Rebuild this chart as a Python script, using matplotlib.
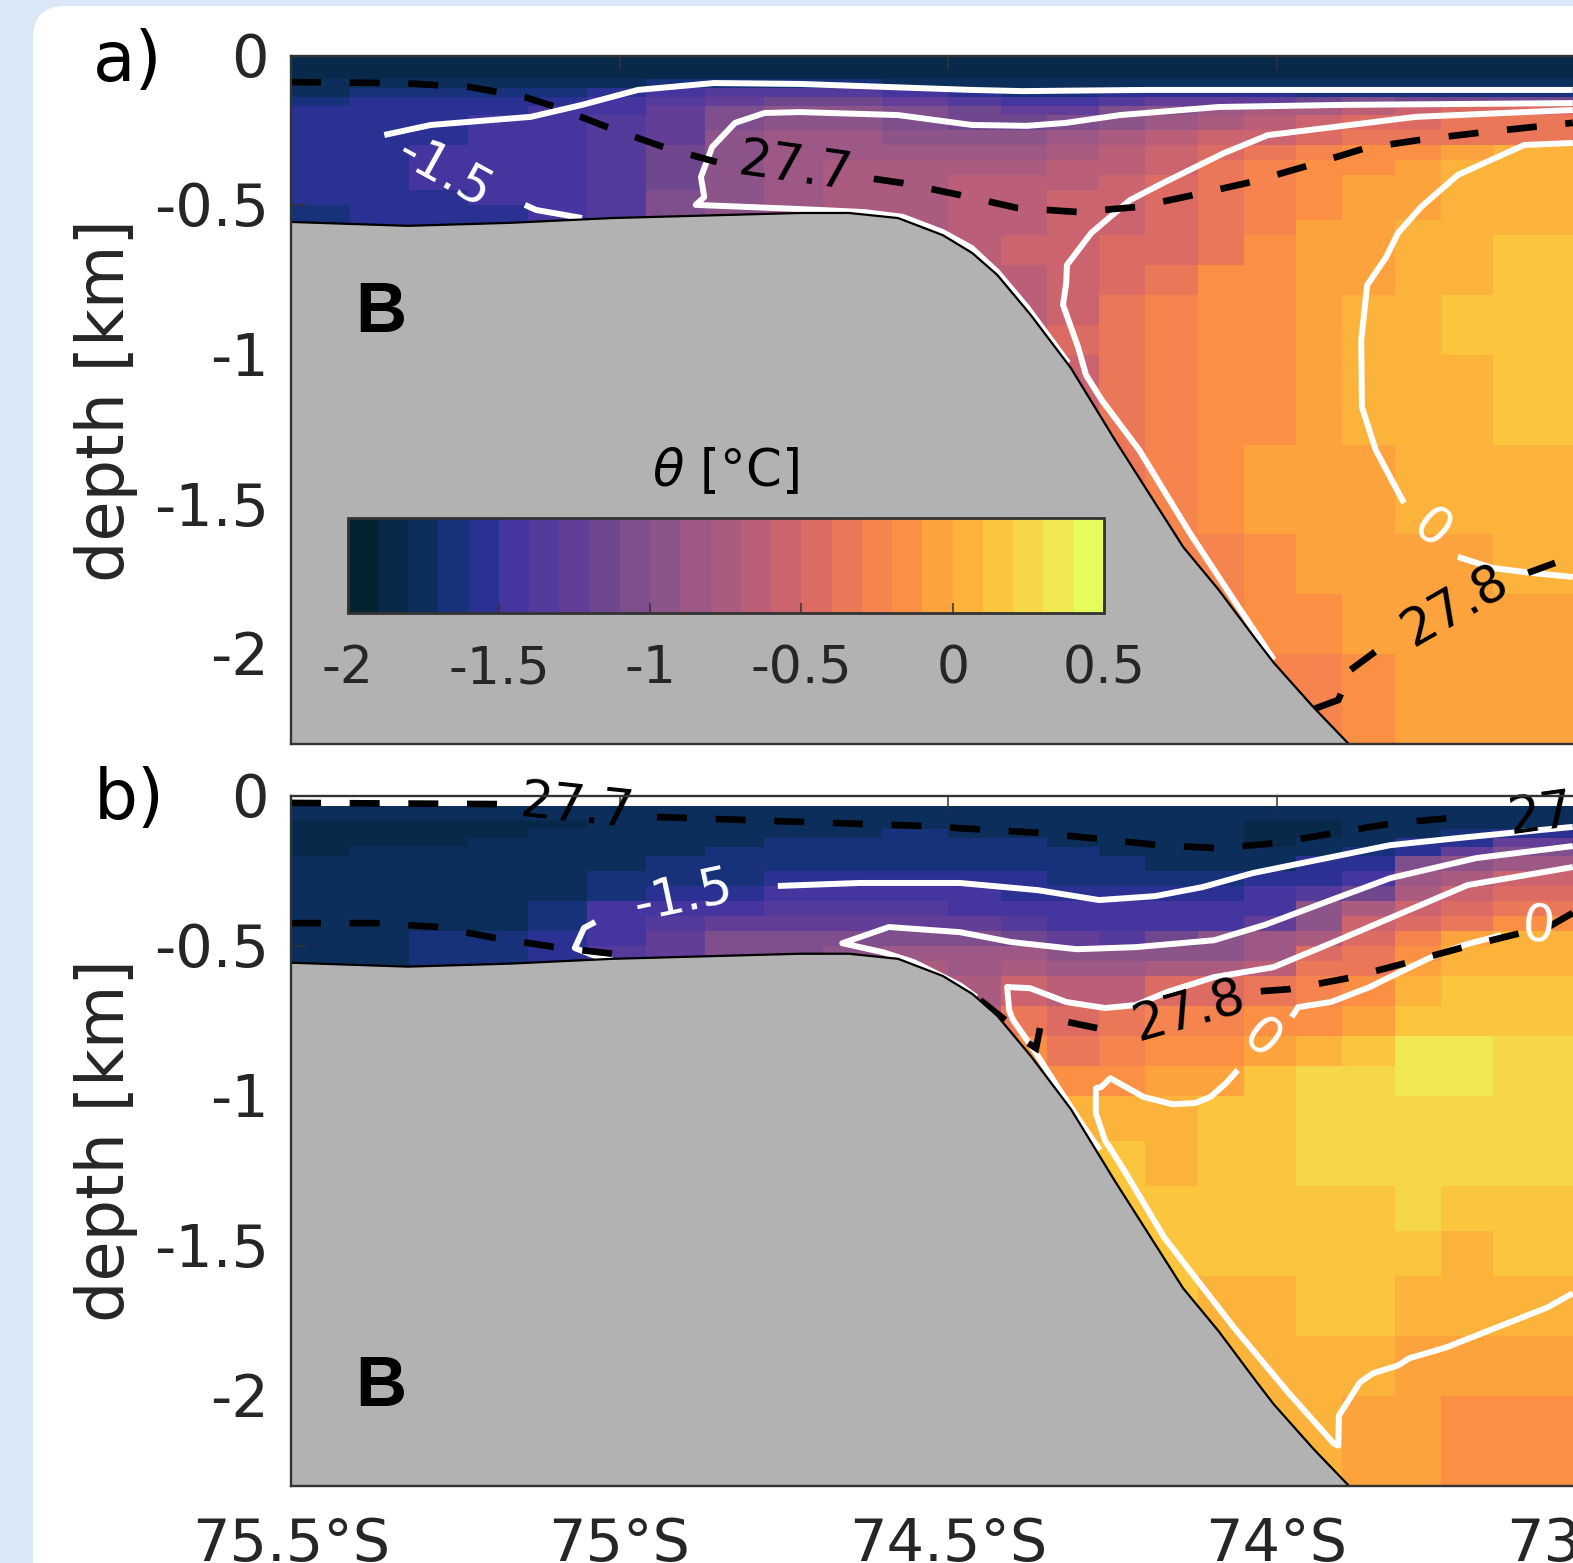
import numpy as np
import matplotlib
matplotlib.use("Agg")
import matplotlib.pyplot as plt
from matplotlib.colors import ListedColormap, BoundaryNorm
from matplotlib.patches import FancyBboxPatch
from matplotlib.transforms import IdentityTransform, ScaledTranslation

n = np.nan
W, H = 1573, 1563

# colour steps, one per 0.1 degC from -2 to 0.5
cbar_colors = ['#04222f', '#08294a', '#0c2e5b', '#17317a', '#2a3192', '#44359f', '#543a9b', '#623e98',
               '#6f478f', '#7e4e8d', '#8c5488', '#9d5885', '#ab5a80', '#bb5f79', '#cc6470', '#db6b63',
               '#ea7858', '#f5844f', '#fb8f43', '#fca33d', '#fcb33b', '#fbc53e', '#f6d749', '#efe851', '#e6fb5c']
cbar_levels = [-2.0, -1.9, -1.8, -1.7, -1.6, -1.5, -1.4, -1.3, -1.2, -1.1, -1.0, -0.9, -0.8, -0.7, -0.6,
               -0.5, -0.4, -0.3, -0.2, -0.1, 0.0, 0.1, 0.2, 0.3, 0.4, 0.5]
cbar_ticks = [-2, -1.5, -1, -0.5, 0, 0.5]
cbar_ticklabels = ['-2', '-1.5', '-1', '-0.5', '0', '0.5']

lat_edges = [75.5, 75.41, 75.32, 75.23, 75.14, 75.05, 74.96, 74.87, 74.78, 74.69, 74.6, 74.5, 74.42, 74.35,
             74.27, 74.2, 74.12, 74.05, 73.97, 73.9, 73.82, 73.75, 73.67, 73.549]
depth_edges = [0, .035, .08, .11, .14, .17, .2, .25, .3, .35, .4, .45, .5, .55, .6, .7, .8, .9, 1.0, 1.15,
               1.3, 1.45, 1.6, 1.8, 2.0, 2.3]

# potential temperature, panel a (rows: depth, columns: latitude)
theta_a = [
    [-1.85] * 23,
    [-1.85] * 23,
    [-1.75] * 6 + [-1.65] * 4 + [-1.75] * 13,
    [-1.75, -1.65, -1.65, -1.65, -1.65, -1.55, -1.45, -1.35, -1.35, -1.35, -1.45, -1.55, -1.65, -1.65, -1.55, -1.55, -1.55, -1.55, -1.65, -1.65, -1.65, -1.65, -1.65],
    [-1.65, -1.55, -1.55, -1.55, -1.55, -1.45, -1.35, -1.25, -1.15, -1.15, -1.25, -1.35, -1.45, -1.45, -1.35, -1.25, -1.25, -1.25, -1.15, -1.05, -1.15, -1.15, -1.15],
    [-1.55, -1.55, -1.55, -1.55, -1.45, -1.45, -1.25, -1.05, -.95, -.95, -1.05, -1.15, -1.25, -1.25, -1.05, -.95, -.85, -.75, -.75, -.65, -.55, -.45, -.45],
    [-1.55, -1.55, -1.55, -1.45, -1.45, -1.35, -1.25, -1.05, -.95, -.95, -1.05, -1.15, -1.15, -1.05, -.95, -.85, -.75, -.65, -.55, -.45, -.45, -.35, -.35],
    [-1.55, -1.55, -1.55, -1.45, -1.45, -1.35, -1.25, -.95, -.85, -.85, -.95, -.95, -.95, -.85, -.75, -.65, -.55, -.55, -.45, -.35, -.35, -.35, -.35],
    [-1.55, -1.55, -1.45, -1.45, -1.45, -1.35, -1.15, -.95, -.85, -.85, -.85, -.85, -.85, -.75, -.65, -.55, -.45, -.35, -.25, -.15, -.15, -.05, .05],
    [-1.55, -1.55, -1.45, -1.45, -1.45, -1.35, -1.15, -.95, -.85, -.75, -.75, -.75, -.75, -.65, -.65, -.55, -.35, -.25, -.15, -.15, -.05, .05, .05],
    [-1.55, -1.55, -1.45, -1.45, -1.45, -1.35, -1.15, -.95, -.85, -.75, -.75, -.65, -.65, -.65, -.55, -.45, -.35, -.25, -.15, -.05, -.05, .05, .05],
    [-1.55, -1.55, -1.55, -1.45, -1.45, -1.35, -1.05, -.95, -.85, -.75, -.75, -.65, -.65, -.55, -.55, -.45, -.35, -.25, -.15, -.05, -.05, .05, .05],
    [-1.65, -1.55, -1.55, -1.55, -1.45, -1.35, -1.05, -.95, -.85, -.75, -.75, -.65, -.65, -.55, -.55, -.45, -.35, -.25, -.15, -.05, -.05, .05, .05],
    [-1.65, -1.55, -1.55, -1.55, -1.45, -1.35, -1.05, -.95, -.85, -.75, -.75, -.65, -.65, -.55, -.55, -.45, -.35, -.25, -.05, -.05, .05, .05, .05],
    [n] * 10 + [-.75, -.65, -.55, -.55, -.45, -.45, -.35, -.15, -.05, -.05, .05, .05, .15],
    [n] * 11 + [-.65, -.65, -.55, -.45, -.35, -.15, -.15, -.05, -.05, .05, .05, .15],
    [n] * 12 + [-.65, -.55, -.35, -.25, -.15, -.15, -.05, .05, .05, .15, .15],
    [n] * 12 + [-.65, -.45, -.35, -.25, -.15, -.15, -.05, .05, .05, .15, .15],
    [n] * 13 + [-.55, -.35, -.25, -.15, -.15, -.05, .05, .05, .05, .15],
    [n] * 13 + [-.55, -.35, -.25, -.15, -.15, -.05, .05, .05, .05, .15],
    [n] * 14 + [-.35, -.25, -.15, -.05, -.05, -.05, .05, .05, .05],
    [n] * 14 + [-.35, -.25, -.15, -.05, -.05, -.05, .05, .05, .05],
    [n] * 15 + [-.25, -.25, -.15, -.05, -.05, -.05, -.05, .05],
    [n] * 16 + [-.25, -.15, -.15, -.05, -.05, -.05, -.05],
    [n] * 17 + [-.25, -.25, -.15, -.05, -.05, -.05],
]

# potential temperature, panel b (one list per latitude column, from the second depth row down)
theta_b_columns = [
    [-1.75, -1.85, -1.85, -1.85, -1.85] + [-1.75] * 8,
    [-1.75, -1.85, -1.85, -1.85, -1.75] + [-1.75] * 8,
    [-1.75, -1.85, -1.85, -1.85, -1.75, -1.75, -1.75, -1.75, -1.75, -1.75, -1.65, -1.65, -1.65],
    [-1.75, -1.85, -1.85, -1.75, -1.75, -1.75, -1.75, -1.75, -1.75, -1.75, -1.65, -1.65, -1.65],
    [-1.75, -1.85, -1.75, -1.75, -1.75, -1.75, -1.75, -1.75, -1.65, -1.65, -1.55, -1.55, -1.55],
    [-1.75] * 6 + [-1.65, -1.65, -1.45, -1.45, -1.45, -1.35, -1.35],
    [-1.75] * 5 + [-1.65, -1.65, -1.55, -1.45, -1.35, -1.25, -1.25, -1.25],
    [-1.75] * 4 + [-1.65, -1.65, -1.65, -1.55, -1.45, -1.25, -1.05, -1.05, -1.05],
    [-1.75] * 3 + [-1.65, -1.65, -1.65, -1.55, -1.45, -1.35, -1.25, -1.05, -1.05, -1.05],
    [-1.75] * 3 + [-1.65, -1.65, -1.65, -1.55, -1.45, -1.35, -1.25, -1.05, -.95, -.95],
    [-1.75, -1.75, -1.65, -1.65, -1.65, -1.65, -1.55, -1.45, -1.35, -1.25, -1.05, -.85, -.75, -.75],
    [-1.75, -1.75, -1.75, -1.65, -1.65, -1.65, -1.55, -1.45, -1.45, -1.25, -1.05, -.85, -.85, -.75, -.65],
    [-1.75, -1.75, -1.75, -1.65, -1.65, -1.65, -1.55, -1.55, -1.45, -1.35, -1.15, -.85, -.75, -.55, -.35, -.15, -.15],
    [-1.75, -1.75, -1.75, -1.75, -1.65, -1.65, -1.65, -1.55, -1.45, -1.45, -1.25, -.95, -.85, -.65, -.45, -.35, -.15, .05, .05],
    [-1.75, -1.75, -1.75, -1.75, -1.75, -1.65, -1.65, -1.55, -1.45, -1.45, -1.35, -.95, -.85, -.65, -.35, -.25, -.15, .05, .15, .15, .15],
    [-1.75, -1.75, -1.75, -1.75, -1.75, -1.75, -1.65, -1.55, -1.45, -1.45, -1.15, -.95, -.75, -.45, -.25, -.15, -.05, .05, .05, .15, .15, .15],
    [-1.75, -1.75, -1.75, -1.75, -1.75, -1.75, -1.65, -1.55, -1.45, -1.45, -.95, -.95, -.75, -.45, -.25, -.15, -.05, .15, .15, .15, .15, .05, .05],
    [-1.75, -1.85, -1.85, -1.85, -1.75, -1.75, -1.55, -1.45, -1.45, -1.25, -.85, -.85, -.65, -.35, -.15, -.05, .15, .15, .15, .15, .15, .05, .05, .05],
    [-1.75, -1.85, -1.85, -1.75, -1.75, -1.55, -1.55, -1.35, -.95, -.95, -.75, -.45, -.35, -.25, -.15, .05, .25, .25, .25, .15, .15, .15, .05, .05],
    [-1.75, -1.75, -1.75, -1.75, -1.65, -1.55, -1.45, -1.15, -.75, -.55, -.45, -.35, -.35, -.15, -.05, .15, .25, .25, .25, .15, .15, .15, .05, -.05],
    [-1.75, -1.75, -1.75, -1.55, -1.55, -1.05, -.85, -.75, -.55, -.45, -.25, -.15, -.05, .05, .15, .35, .35, .25, .25, .25, .15, .05, -.05, -.05],
    [-1.75, -1.75, -1.65, -1.55, -1.25, -.95, -.75, -.55, -.45, -.35, -.05, .05, .05, .15, .15, .35, .35, .25, .25, .15, .05, .05, -.05, -.15],
    [-1.75, -1.75, -1.55, -1.25, -1.05, -.85, -.55, -.45, -.35, -.15, .05, .05, .05, .15, .15, .25, .25, .25, .25, .15, .15, .05, -.05, -.15],
]

# sea floor
bathy_lat = [75.5, 75.322, 75.167, 75.011, 74.725, 74.651, 74.576, 74.508, 74.463, 74.425, 74.374, 74.313, 74.246, 74.142, 74.088, 74.031, 74.004, 73.943, 73.89]
bathy_depth = [-.556, -.569, -.559, -.543, -.526, -.526, -.543, -.600, -.660, -.733, -.867, -1.044, -1.284, -1.642, -1.785, -1.952, -2.029, -2.179, -2.3]

# panel a: theta contours (white)
a_iso_m15_upper = ([75.358, 75.287, 75.135, 75.057, 74.972, 74.856, 74.725, 74.464, 74.387, 74.2, 73.549],
                   [.2655, .232, .205, .165, .115, .092, .095, .115, .119, .115, .115])
a_iso_m15_lower = ([75.144, 75.127, 75.057], [.499, .516, .543])
a_iso_m10 = ([74.317, 74.38, 74.425, 74.464, 74.508, 74.569, 74.628, 74.725, 74.884, 74.871, 74.876, 74.859, 74.824, 74.779, 74.725, 74.576, 74.464, 74.38, 74.32, 74.238, 74.088, 73.9, 73.549],
             [1.027, .84, .723, .643, .59, .539, .523, .513, .499, .473, .406, .306, .225, .192, .189, .199, .232, .235, .225, .199, .172, .165, .159])
a_iso_m05 = ([73.549, 73.788, 74.013, 74.08, 74.17, 74.223, 74.282, 74.319, 74.32, 74.325, 74.302, 74.29, 74.266, 74.209, 74.132, 74.065, 74.004],
             [.182, .205, .266, .326, .423, .483, .593, .7, .76, .833, .974, 1.067, 1.151, 1.318, 1.595, 1.819, 2.019])
a_iso_0_upper = ([73.549, 73.623, 73.724, 73.78, 73.815, 73.833, 73.862, 73.871, 73.87, 73.849, 73.806],
                 [.292, .299, .399, .506, .593, .673, .767, .95, 1.174, 1.318, 1.495])
a_iso_0_lower = ([73.724, 73.671, 73.614, 73.549], [1.675, 1.712, 1.728, 1.742])

# panel a: density contours (black, dashed)
a_rho_277_left = ([75.5, 75.334, 75.228, 75.144, 75.097, 75.019, 74.929, 74.852],
                  [.089, .092, .105, .139, .172, .239, .309, .356])
a_rho_277_right = ([74.613, 74.569, 74.482, 74.395, 74.302, 74.212, 74.126, 74.039, 73.949, 73.864, 73.773, 73.683, 73.593, 73.549],
                   [.412, .426, .466, .509, .523, .506, .466, .423, .366, .309, .279, .256, .235, .225])
a_rho_278_pieces = [([73.943, 73.906, 73.902], [2.183, 2.153, 2.133]),
                    ([73.887, 73.85], [2.052, 1.992]),
                    ([73.617, 73.576], [1.728, 1.695])]

# panel b: theta contours (white)
b_iso_m15_left = ([75.037, 75.054, 75.068, 75.028, 75.011], [.42, .44, .507, .541, .544])
b_iso_m15_right = ([74.759, 74.634, 74.482, 74.363, 74.27, 74.185, 74.113, 74.036, 73.946, 73.827, 73.709, 73.549],
                   [.3, .29, .29, .314, .347, .334, .304, .257, .217, .164, .137, .103])
b_iso_m10 = ([74.457, 74.482, 74.552, 74.599, 74.661, 74.59, 74.482, 74.404, 74.304, 74.214, 74.095, 74.018, 73.917, 73.827, 73.696, 73.549],
             [.671, .631, .554, .521, .491, .437, .454, .487, .511, .504, .481, .43, .347, .274, .207, .167])
b_iso_m05 = ([74.269, 74.295, 74.33, 74.369, 74.401, 74.407, 74.41, 74.375, 74.32, 74.261, 74.214, 74.167, 74.095, 74.005, 73.917, 73.827, 73.709, 73.549],
             [1.181, 1.098, .981, .848, .747, .714, .637, .641, .687, .707, .697, .654, .604, .571, .491, .407, .297, .237])
b_iso_0_right = ([73.977, 73.967, 73.917, 73.858, 73.821, 73.768, 73.715, 73.658],
                 [.737, .704, .687, .637, .597, .541, .497, .464])
b_iso_0_left = ([74.059, 74.077, 74.101, 74.124, 74.158, 74.202, 74.253, 74.267, 74.275, 74.275, 74.261, 74.232, 74.171, 74.065, 73.981, 73.913, 73.906, 73.905, 73.873, 73.853, 73.815, 73.798, 73.742, 73.587, 73.549],
                [.914, .958, 1.004, 1.024, 1.028, 1.004, .941, .971, .974, 1.058, 1.148, 1.248, 1.472, 1.772, 1.992, 2.159, 2.166, 2.066, 1.955, 1.925, 1.899, 1.875, 1.839, 1.705, 1.658])

# panel b: density contours (black, dashed)
b_rho_277_top_left = ([75.5, 75.183], [.023, .027])
b_rho_277_top_right = ([74.943, 74.674, 74.538, 74.36, 74.27, 74.179, 74.089, 73.999, 73.911, 73.821, 73.731],
                       [.07, .09, .1, .123, .143, .164, .174, .157, .123, .09, .073])
b_rho_277_low = ([75.5, 75.368, 75.276, 75.188, 75.098, 75.007], [.424, .424, .437, .474, .504, .527])
b_rho_278_pieces = [([74.451, 74.413], [.681, .747]),
                    ([74.378, 74.366, 74.36], [.824, .841, .774]),
                    ([74.317, 74.273], [.754, .774]),
                    ([73.584, 73.549], [.434, .39])]
b_rho_278_main = ([74.024, 73.98, 73.89, 73.803, 73.715, 73.628], [.651, .644, .607, .557, .504, .457])

# contour labels: text, latitude, depth, rotation, colour
a_labels = [('-1.5', 75.266, .392, -29, 'white'), ('27.7', 74.733, .376, -8, 'black'),
            ('0', 73.766, 1.585, -40, 'white'), ('27.8', 73.728, 1.842, 30, 'black')]
b_labels = [('27.7', 75.065, .04, -6, 'black'), ('27.7', 73.561, .053, 8, 'black'),
            ('-1.5', 74.902, .334, 12, 'white'), ('27.8', 74.133, .721, 16, 'black'),
            ('0', 74.024, .814, -40, 'white'), ('0', 73.602, .44, -5, 'white')]

x_ticks = [75.5, 75, 74.5, 74, 73.5]
x_ticklabels = ['75.5°S', '75°S', '74.5°S', '74°S', '73.5°S']
y_ticks = [0, -0.5, -1, -1.5, -2]
y_ticklabels = ['0', '-0.5', '-1', '-1.5', '-2']

TXT = '#262626'
GREY = '#b2b2b2'
cmap = ListedColormap(cbar_colors)
norm = BoundaryNorm(cbar_levels, cmap.N)

fig = plt.figure(figsize=(W / 100, H / 100), dpi=100, facecolor='#dae7f7')
card = FancyBboxPatch((33 + 32, -200), W + 200, H - 6 + 200 - 32, boxstyle='round,pad=32,rounding_size=32',
                      fc='white', ec='none', transform=IdentityTransform(), figure=fig, zorder=-5)
fig.patches.append(card)


def make_axes(top, bottom):
    lat_right = 73.3
    right_px = 291 + (75.5 - lat_right) * 657
    ax = fig.add_axes([291 / W, 1 - bottom / H, (right_px - 291) / W, (bottom - top) / H])
    ax.set_xlim(75.5, lat_right)
    ax.set_ylim(-2.3, 0)
    ax.set_facecolor('white')
    ax.set_xticks(x_ticks)
    ax.set_yticks(y_ticks)
    ax.set_yticklabels(y_ticklabels)
    ax.tick_params(axis='both', direction='in', length=10, width=1.1, color='#333333', labelcolor=TXT,
                   labelsize=42.5, top=True, bottom=True, left=True, right=False)
    ax.tick_params(axis='y', pad=16)
    shift = ScaledTranslation(0, 1.5 / 100, fig.dpi_scale_trans)
    for lab in ax.get_yticklabels():
        lab.set_transform(lab.get_transform() + shift)
    for s in ax.spines.values():
        s.set_color('#333333')
        s.set_linewidth(1.7)
        s.set_zorder(8)
    return ax


def white(ax, xy, lw=4.3):
    ax.plot(xy[0], -np.array(xy[1]), color='white', lw=lw, solid_capstyle='butt', solid_joinstyle='round', zorder=3)


def dashed(ax, xy):
    ax.plot(xy[0], -np.array(xy[1]), color='black', lw=4.8, dashes=(4.5, 4.3), dash_capstyle='butt', zorder=4)


def solid_black(ax, xy):
    ax.plot(xy[0], -np.array(xy[1]), color='black', lw=4.8, solid_capstyle='butt', solid_joinstyle='miter', zorder=4)


def common(ax, field):
    mesh = ax.pcolormesh(lat_edges, -np.array(depth_edges), np.ma.masked_invalid(field), cmap=cmap, norm=norm,
                         shading='flat', zorder=1, linewidth=0)
    ax.fill_between(bathy_lat, bathy_depth, -2.3, color=GREY, lw=0, zorder=5)
    ax.plot(bathy_lat, bathy_depth, color='black', lw=1.6, zorder=6)
    return mesh


def labels(ax, items):
    for s, la, d, rot, c in items:
        ax.text(la, -d, s, color=c, fontsize=37, rotation=rot, rotation_mode='anchor', ha='center', va='center',
                zorder=7, clip_on=False)


# panel a
ax_a = make_axes(55.5, 744)
mesh_a = common(ax_a, np.array(theta_a, dtype=float))
for line in [a_iso_m15_upper, a_iso_m15_lower, a_iso_m10, a_iso_m05, a_iso_0_upper, a_iso_0_lower]:
    white(ax_a, line)
dashed(ax_a, a_rho_277_left)
dashed(ax_a, a_rho_277_right)
for piece in a_rho_278_pieces:
    solid_black(ax_a, piece)
labels(ax_a, a_labels)
ax_a.set_xticklabels([])
ax_a.text(75.363, -.865, 'B', fontsize=51, fontweight='bold', family='Liberation Sans', color='black',
          ha='center', va='center', zorder=7)
ax_a.text(74.839, -1.39, r'$\theta$ [°C]', fontsize=37, color='black', ha='center', va='center', zorder=7,
          math_fontfamily='dejavusans')

# panel b
theta_b = np.full((25, 23), np.nan)
for j, col in enumerate(theta_b_columns):
    theta_b[1:1 + len(col), j] = col
ax_b = make_axes(796, 1485.7)
common(ax_b, theta_b)
for line in [b_iso_m15_left, b_iso_m15_right, b_iso_m10, b_iso_m05, b_iso_0_right, b_iso_0_left]:
    white(ax_b, line)
dashed(ax_b, b_rho_277_top_left)
dashed(ax_b, b_rho_277_top_right)
dashed(ax_b, b_rho_277_low)
dashed(ax_b, b_rho_278_main)
for piece in b_rho_278_pieces:
    solid_black(ax_b, piece)
labels(ax_b, b_labels)
ax_b.set_xticklabels(x_ticklabels)
ax_b.tick_params(axis='x', pad=22)
ax_b.text(75.363, -1.975, 'B', fontsize=51, fontweight='bold', family='Liberation Sans', color='black',
          ha='center', va='center', zorder=7)

# colour bar
cax = fig.add_axes([347.7 / W, 1 - 612.5 / H, (1104 - 347.7) / W, (612.5 - 518) / H], zorder=10)
cb = fig.colorbar(mesh_a, cax=cax, orientation='horizontal', ticks=cbar_ticks, drawedges=False)
cb.set_ticklabels(cbar_ticklabels)
cb.minorticks_off()
cb.ax.tick_params(direction='in', length=7, width=1.1, color='#333333', labelcolor=TXT, labelsize=37.5, pad=23)
cb.outline.set_edgecolor('#333333')
cb.outline.set_linewidth(2)

# panel letters and axis titles
fig.text(128 / W, 1 - 61 / H, 'a)', fontsize=50, color='black', ha='center', va='center')
fig.text(129 / W, 1 - 800 / H, 'b)', fontsize=50, color='black', ha='center', va='center')
fig.text(106 / W, 1 - 401 / H, 'depth [km]', fontsize=47, color=TXT, rotation=90, ha='center', va='center')
fig.text(106 / W, 1 - 1141 / H, 'depth [km]', fontsize=47, color=TXT, rotation=90, ha='center', va='center')

fig.savefig('out.png', dpi=100, facecolor=fig.get_facecolor())
